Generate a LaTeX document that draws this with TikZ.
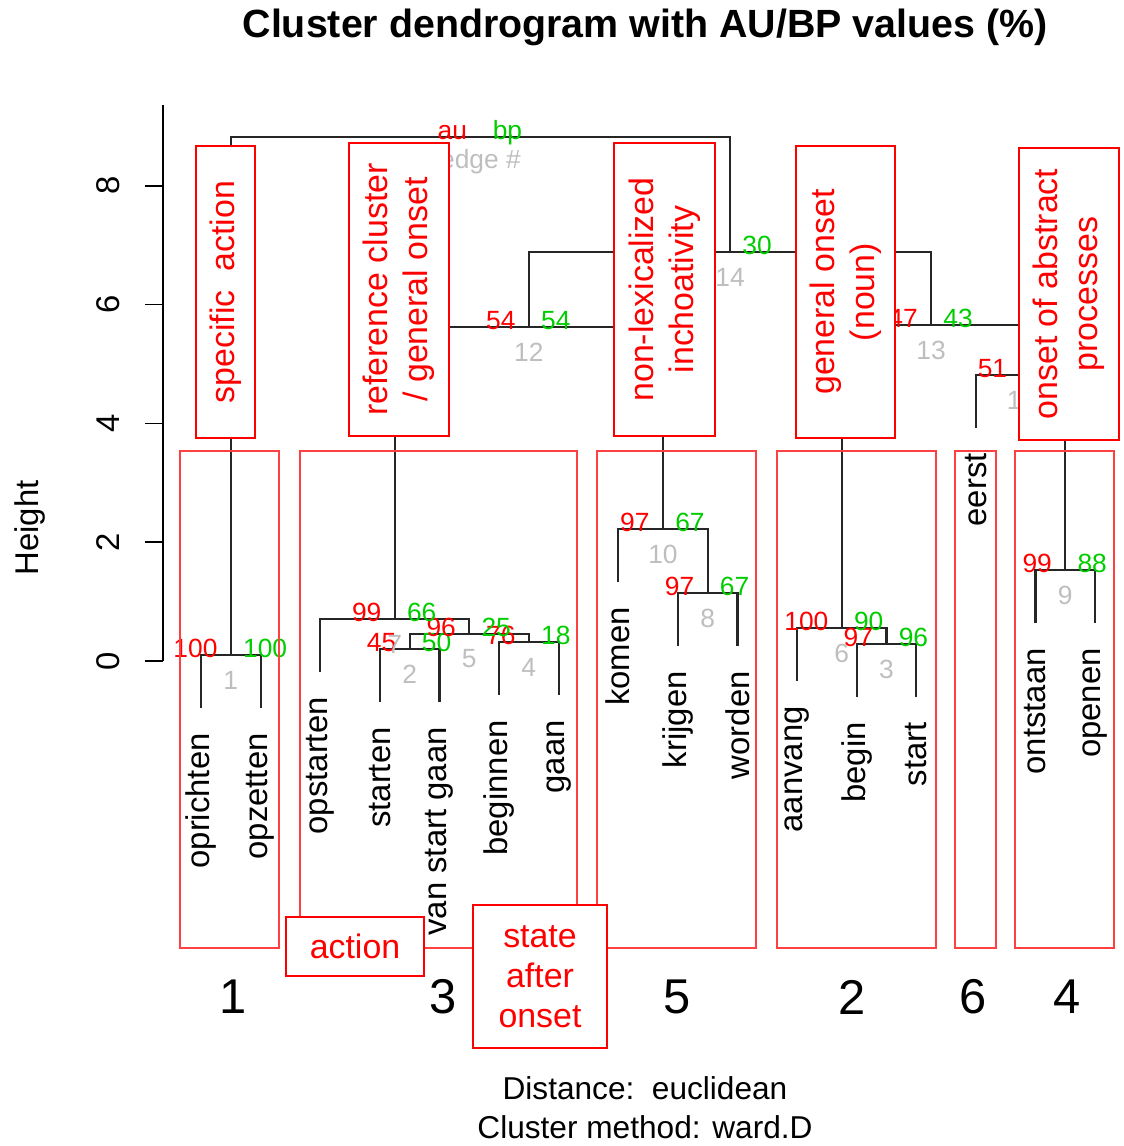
\documentclass[tikz,border=0pt]{standalone}
\usepackage{fontspec}
\setmainfont{Liberation Sans}
\usetikzlibrary{calc}
\definecolor{aucol}{RGB}{255,0,0}
\definecolor{bpcol}{RGB}{0,205,0}
\definecolor{edgecol}{RGB}{190,190,190}

\begin{document}
\begin{tikzpicture}[x=0.02cm, y=-0.02cm,
        tree/.style={black!85, line width=1.25pt},
        au/.style={text=aucol, font=\fontsize{15}{17}\selectfont, inner sep=0pt, anchor=base east},
        bp/.style={text=bpcol, font=\fontsize{15}{17}\selectfont, inner sep=0pt, anchor=base west},
        edgeno/.style={text=edgecol, font=\fontsize{15}{17}\selectfont, inner sep=0pt},
        leaf/.style={rotate=90, anchor=east, inner sep=0pt, font=\fontsize{18.7}{22}\selectfont},
        tag/.style={draw=red, fill=white, line width=1.1pt, text=red, align=center, inner sep=0pt,
            font=\fontsize{19.3}{22.7}\selectfont},
        clusterbox/.style={draw=red!75, line width=0.9pt}]
    \useasboundingbox ( 0, 0 ) rectangle ( 1123, 1146 );
    \def \pv #1#2#3#4{%
        \node [au] (#1au) at ($ (#1) + ( -13, 2 ) $) {#2};
        \node [bp] (#1bp) at ($ (#1) + ( 12, 2 ) $) {#3};
        \node [edgeno] (#1no) at ($ (#1) + ( 0, 25 ) $) {#4};}

    % ось высоты
    \draw [line width=1pt] ( 163, 661 ) -- ( 163, 105 );
    \foreach \h in {0,2,...,8} {
        \draw [line width=1pt] ( 145, {661-59.4*\h} ) -- ( 163, {661-59.4*\h} );
        \node [rotate=90, font=\fontsize{18.7}{22}\selectfont] (tick\h) at ( 108, {661-59.4*\h} ) {\h};
    }
    \node [rotate=90, font=\fontsize{18.7}{22}\selectfont] (height) at ( 30, 528 ) {Height};

    % листья
    \foreach \word/\y [count=\i] in {oprichten/708, opzetten/708, opstarten/672, starten/702,
            van start gaan/702, beginnen/695, gaan/695, komen/582, krijgen/646, worden/646,
            aanvang/681, begin/697, start/697, eerst/428, ontstaan/623, openen/623} {
        \coordinate (l\i) at ( {201+59.6*(\i-1)}, \y );
        \node [leaf] (w\i) at ( {201+59.6*(\i-1)}, \y+25 ) {\word};
    }

    % узлы слияния
    \coordinate (e1) at ( 230.8, 655 );
    \coordinate (e2) at ( 409.6, 649 );
    \coordinate (e3) at ( 886.4, 644 );
    \coordinate (e4) at ( 528.8, 642 );
    \coordinate (e5) at ( 469.2, 634 );
    \coordinate (e6) at ( 841.7, 628 );
    \coordinate (e7) at ( 394.7, 619 );
    \coordinate (e8) at ( 707.6, 593 );
    \coordinate (e9) at ( 1065.2, 570 );
    \coordinate (e10) at ( 662.9, 529 );
    \coordinate (e11) at ( 1020.5, 375 );
    \coordinate (e12) at ( 528.8, 327 );
    \coordinate (e13) at ( 931.1, 325 );
    \coordinate (e14) at ( 730.0, 252 );
    \coordinate (e15) at ( 480.4, 137 );

    % дерево
    \draw [tree] (l1) |- (e1) -| (l2);
    \draw [tree] (l4) |- (e2) -| (l5);
    \draw [tree] (l6) |- (e4) -| (l7);
    \draw [tree] (e2) |- (e5) -| (e4);
    \draw [tree] (l3) |- (e7) -| (e5);
    \draw [tree] (l9) |- (e8) -| (l10);
    \draw [tree] (l8) |- (e10) -| (e8);
    \draw [tree] (e7) |- (e12) -| (e10);
    \draw [tree] (l12) |- (e3) -| (l13);
    \draw [tree] (l11) |- (e6) -| (e3);
    \draw [tree] (l15) |- (e9) -| (l16);
    \draw [tree] (l14) |- (e11) -| (e9);
    \draw [tree] (e6) |- (e13) -| (e11);
    \draw [tree] (e12) |- (e14) -| (e13);
    \draw [tree] (e1) |- (e15) -| (e14);

    % значения au / bp
    \pv{e1}{100}{100}{1}
    \pv{e2}{45}{50}{2}
    \pv{e3}{97}{96}{3}
    \pv{e4}{76}{18}{4}
    \pv{e5}{96}{25}{5}
    \pv{e6}{100}{90}{6}
    \pv{e7}{99}{66}{7}
    \pv{e8}{97}{67}{8}
    \pv{e9}{99}{88}{9}
    \pv{e10}{97}{67}{10}
    \pv{e11}{51}{}{11}
    \pv{e12}{54}{54}{12}
    \pv{e13}{47}{43}{13}
    \pv{e14}{}{30}{14}
    \pv{e15}{au}{bp}{edge \#}

    % рамки кластеров
    \draw [clusterbox] ( 180, 451 ) rectangle ( 279, 948 );
    \draw [clusterbox] ( 300, 451 ) rectangle ( 577, 948 );
    \draw [clusterbox] ( 597, 451 ) rectangle ( 756, 948 );
    \draw [clusterbox] ( 777, 451 ) rectangle ( 936, 948 );
    \draw [clusterbox] ( 955, 451 ) rectangle ( 996, 948 );
    \draw [clusterbox] ( 1015, 451 ) rectangle ( 1114, 948 );
    \foreach \k/\x in {1/233, 3/443, 5/677, 2/852, 6/973, 4/1067}
        \node [font=\fontsize{27.8}{30}\selectfont] (c\k) at ( \x, 997 ) {\k};

    % подписи групп
    \node [tag, rotate=90, minimum width=5.84cm, minimum height=1.18cm] (specific) at ( 225.5, 292 )
        {specific~~action};
    \node [tag, rotate=90, minimum width=5.86cm, minimum height=2cm] (reference) at ( 399, 289.5 )
        {reference cluster\\/ general onset};
    \node [tag, rotate=90, minimum width=5.86cm, minimum height=2.02cm] (nonlex) at ( 664.5, 289.5 )
        {non-lexicalized\\inchoativity};
    \node [tag, rotate=90, minimum width=5.84cm, minimum height=1.98cm] (noun) at ( 845.5, 292 )
        {general onset\\(noun)};
    \node [tag, rotate=90, minimum width=5.84cm, minimum height=2cm] (abstract) at ( 1069, 294 )
        {onset of abstract\\processes};
    \node [tag, minimum width=2.76cm, minimum height=1.18cm] (action) at ( 355, 946.5 ) {action};
    \node [tag, minimum width=2.68cm, minimum height=2.86cm] (state) at ( 540, 976.5 )
        {state\\after\\onset};

    % заголовок и подписи снизу
    \node [font=\bfseries\fontsize{22.4}{26}\selectfont] (title) at ( 645, 27 )
        {Cluster dendrogram with AU/BP values (\%)};
    \node [font=\fontsize{18}{21}\selectfont] (dist) at ( 645, 1088 ) {Distance:\ \ euclidean};
    \node [font=\fontsize{18}{21}\selectfont] (method) at ( 645, 1127 ) {Cluster method: ward.D};
\end{tikzpicture}
\end{document}
